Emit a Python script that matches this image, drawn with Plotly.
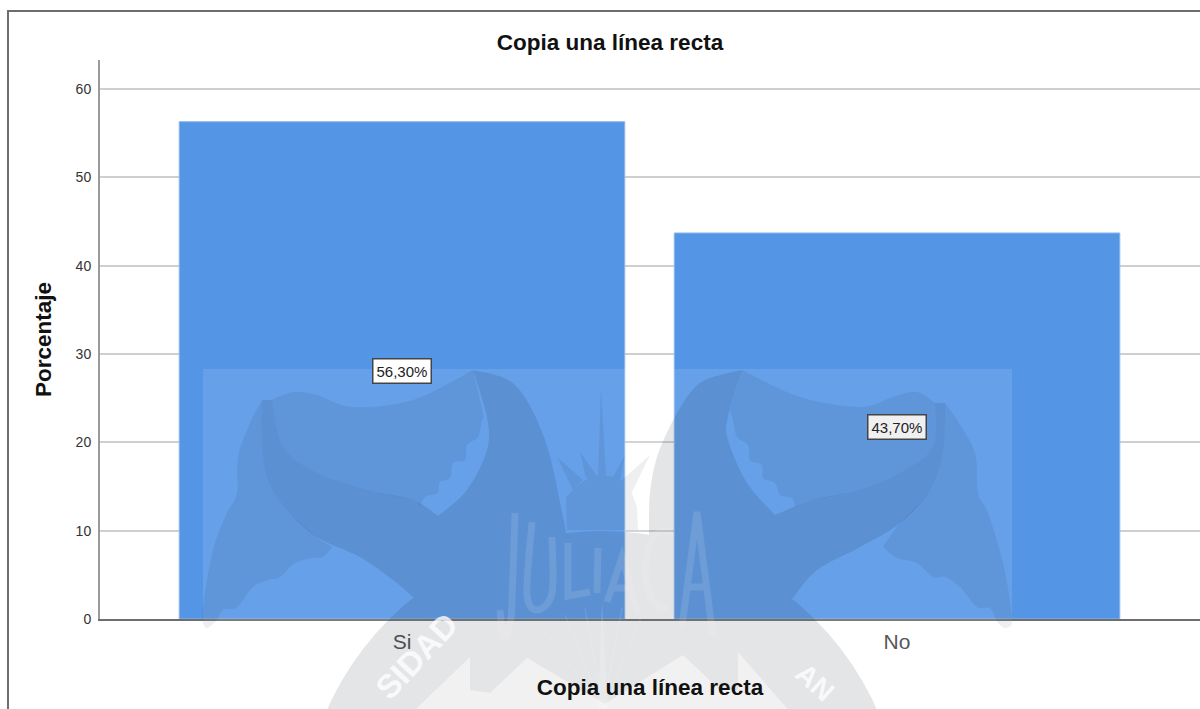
import math
import plotly.graph_objects as go

# ---- data ----
categories = ["Si", "No"]
percentages = [56.3, 43.7]
value_labels = ["56,30%", "43,70%"]
label_backgrounds = ["#ffffff", "#f0f0f0"]
y_ticks = [0, 10, 20, 30, 40, 50, 60]
chart_title = "Copia una línea recta"
x_title = "Copia una línea recta"
y_title = "Porcentaje"

# ---- layout constants (pixels on the 1200x709 page) ----
W, H = 1200, 709
L, R, T, B = 100, 1200, 60, 619
BAR = "#5495E6"
FONT = "Liberation Sans"


def px(x, y):
    return (x - L) / (R - L), (B - y) / (B - T)


def p(x, y):
    a, b = px(x, y)
    return f"{a:.5f},{b:.5f}"


def curve(pts):
    """Catmull-Rom through the points, as SVG cubic segments."""
    out = []
    n = len(pts)
    for i in range(n - 1):
        p0 = pts[max(i - 1, 0)]
        p1 = pts[i]
        p2 = pts[i + 1]
        p3 = pts[min(i + 2, n - 1)]
        c1 = (p1[0] + (p2[0] - p0[0]) / 6, p1[1] + (p2[1] - p0[1]) / 6)
        c2 = (p2[0] - (p3[0] - p1[0]) / 6, p2[1] - (p3[1] - p1[1]) / 6)
        out.append(f"C{p(*c1)} {p(*c2)} {p(*p2)}")
    return " ".join(out)


def area(pts):
    return sum(pts[i][0] * pts[(i + 1) % len(pts)][1] - pts[(i + 1) % len(pts)][0] * pts[i][1]
               for i in range(len(pts))) / 2


def shape_path(*runs, sign=1):
    """Smooth runs joined at sharp corners; winding forced so overlaps stay filled."""
    runs = [list(r) for r in runs]
    anchors = [q for r in runs for q in r]
    if area(anchors) * sign < 0:
        runs = [r[::-1] for r in runs[::-1]]
    s = "M" + p(*runs[0][0])
    for i, run in enumerate(runs):
        if i:
            s += " L" + p(*run[0])
        s += " " + curve(run)
    return s + " Z"


def polygon(pts, sign=1):
    pts = list(pts)
    if area(pts) * sign < 0:
        pts = pts[::-1]
    return "M" + " L".join(p(*q) for q in pts) + " Z"


def circle(cx, cy, r, n=96):
    return polygon([(cx + r * math.cos(2 * math.pi * i / n),
                     cy + r * math.sin(2 * math.pi * i / n)) for i in range(n)])


# ---- university seal watermark ----
left_tail = shape_path(
    [(473, 370), (515, 385), (545, 440), (563, 517), (566, 535)],
    [(566, 575), (413, 597)],
    [(413, 597), (393, 580), (360, 557), (317, 537), (287, 510), (267, 477), (262, 433), (262, 400)],
    [(272, 400), (283, 447), (317, 473), (367, 490), (413, 500), (438, 516)],
    [(438, 516), (467, 490), (487, 450), (487, 417), (473, 370)],
)
right_tail = shape_path(
    [(742, 370), (700, 383), (675, 417), (657, 457), (650, 493), (649, 525)],
    [(649, 575), (793, 598)],
    [(793, 598), (817, 570), (860, 547), (900, 523), (930, 490), (943, 450), (945, 403)],
    [(935, 403), (933, 447), (900, 473), (860, 490), (813, 500), (775, 515)],
    [(775, 515), (747, 483), (728, 440), (728, 417), (742, 370)],
)
inner_light = [(413, 712), (470, 657), (470, 690), (490, 693), (527, 658), (605, 704),
               (683, 655), (720, 690), (738, 690), (738, 652), (790, 712)]
# outer disc with the light inner field cut out (opposite winding)
disc = circle(602, 832, 301)
dark_path = " ".join([disc, polygon(inner_light, sign=-1), left_tail, right_tail])

left_upper = shape_path(
    [(272, 400), (293, 392), (317, 395), (353, 407), (413, 400), (473, 370)],
    [(473, 370), (484, 417)],
    [(484, 417), (482, 420), (478, 437), (467, 445), (465, 460), (453, 463), (450, 478),
     (440, 482), (437, 493), (425, 497), (420, 507)],
    [(420, 507), (413, 500), (367, 490), (317, 473), (283, 447), (272, 400)],
)
left_lower = shape_path(
    [(262, 400), (250, 423), (238, 457), (237, 493), (227, 513), (213, 550), (203, 607), (203, 622),
     (207, 628), (217, 620), (223, 610), (237, 607), (253, 587), (268, 580), (280, 577), (295, 563),
     (313, 558), (323, 557), (332, 547)],
    [(332, 547), (317, 537), (287, 510), (267, 477), (262, 433), (262, 400)],
)
right_upper = shape_path(
    [(935, 403), (917, 392), (893, 397), (860, 407), (800, 397), (742, 370)],
    [(742, 370), (730, 410)],
    [(730, 410), (733, 420), (737, 437), (748, 445), (750, 460), (762, 465), (763, 478),
     (775, 483), (780, 495), (792, 498), (795, 507)],
    [(795, 507), (813, 500), (860, 490), (900, 473), (933, 447), (935, 403)],
)
right_lower = shape_path(
    [(945, 403), (957, 420), (975, 453), (978, 493), (988, 513), (1003, 563), (1012, 617),
     (1007, 628), (998, 623), (990, 608), (977, 607), (960, 587), (945, 577), (933, 577),
     (917, 563), (897, 558), (883, 547)],
    [(883, 547), (900, 523), (930, 490), (943, 450), (945, 403)],
)
crown = " ".join([
    polygon([(567, 530), (566, 497), (576, 487), (590, 477), (600, 475), (618, 477), (630, 488),
             (637, 507), (638, 530)]),
    polygon([(598, 476), (601, 388), (606, 476)]),
    polygon([(573, 490), (557, 457), (583, 480)]),
    polygon([(586, 478), (580, 452), (597, 476)]),
    polygon([(613, 477), (625, 455), (620, 480)]),
    polygon([(622, 480), (650, 455), (632, 492)]),
])
mid_path = " ".join([left_upper, left_lower, right_upper, right_lower, crown])

# the tall condensed lettering of the seal is drawn as strokes
juliaca_strokes = " ".join([
    "M" + p(515, 513) + " " + curve([(515, 513), (512, 600), (510, 625), (503, 637), (500, 610)]),
    "M" + p(532, 522) + " " + curve([(532, 522), (527, 593), (537, 610), (552, 593), (552, 537)]),
    "M" + p(568, 543) + " L" + p(568, 596) + " L" + p(590, 592),
    "M" + p(598, 548) + " L" + p(597, 593),
    "M" + p(607, 602) + " L" + p(622, 557) + " L" + p(638, 613) + " M" + p(613, 588) + " L" + p(633, 588),
    "M" + p(673, 532) + " " + curve([(673, 532), (655, 535), (645, 567), (652, 600), (668, 610)]),
    "M" + p(682, 627) + " L" + p(697, 512) + " L" + p(713, 637) + " M" + p(687, 587) + " L" + p(708, 587),
])
rays = " ".join(
    "M" + p(603, 709) + " L" + p(x, y)
    for x, y in [(540, 625), (565, 615), (585, 608), (622, 608), (642, 615), (668, 625)]
)

frame_path = "M" + p(8, 709) + " L" + p(8, 11) + " L" + p(1200, 11)

shapes = [
    dict(type="rect", xref="paper", yref="paper",
         x0=px(203, 0)[0], x1=px(1012, 0)[0], y0=px(0, 709)[1], y1=px(0, 369)[1],
         fillcolor="rgba(255,255,255,0.105)", line_width=0, layer="above"),
    dict(type="path", xref="paper", yref="paper", path=polygon(inner_light),
         fillcolor="rgba(0,0,0,0.055)", line_width=0, layer="above"),
    dict(type="path", xref="paper", yref="paper", path=dark_path, fillrule="nonzero",
         fillcolor="rgba(0,10,30,0.105)", line_width=0, layer="above"),
    dict(type="path", xref="paper", yref="paper", path=mid_path, fillrule="nonzero",
         fillcolor="rgba(0,10,30,0.065)", line_width=0, layer="above"),
    dict(type="path", xref="paper", yref="paper", path=juliaca_strokes,
         line=dict(color="rgba(255,255,255,0.11)", width=7), layer="above"),
    dict(type="path", xref="paper", yref="paper", path=rays,
         line=dict(color="rgba(255,255,255,0.15)", width=1), layer="above"),
    dict(type="path", xref="paper", yref="paper", path="M" + p(598, 709) + " L" + p(602, 600) + " L" + p(608, 709) + " Z",
         fillcolor="rgba(255,255,255,0.15)", line_width=0, layer="above"),
    dict(type="path", xref="paper", yref="paper", path=frame_path,
         line=dict(color="#6e6e6e", width=2), layer="above"),
]

# ---- annotations ----
annotations = [
    dict(x=c, y=v / 2, xref="x", yref="y", text=t, showarrow=False,
         font=dict(family=FONT, size=15, color="#222222"),
         bgcolor=bg, bordercolor="#444444", borderwidth=1.5, borderpad=3, yshift=-1)
    for c, v, t, bg in zip(categories, percentages, value_labels, label_backgrounds)
]
for txt, cx, cy, ang, size in [("SIDAD", 416, 656, -47, 33), ("AN", 815, 682, 42, 28)]:
    ax, ay = px(cx, cy)
    annotations.append(dict(x=ax, y=ay, xref="paper", yref="paper", text=f"<b>{txt}</b>", textangle=ang,
                            showarrow=False, xanchor="center", yanchor="middle",
                            font=dict(family=FONT, size=size, color="rgba(255,255,255,0.8)")))

# ---- figure ----
fig = go.Figure(go.Bar(
    x=categories, y=percentages,
    marker=dict(color=BAR, line=dict(color="#8ab6ee", width=1)),
    hoverinfo="skip",
))

fig.update_layout(
    width=W, height=H,
    margin=dict(l=L, r=W - R, t=T, b=H - B, pad=0, autoexpand=False),
    paper_bgcolor="#ffffff", plot_bgcolor="#ffffff",
    bargap=0.1, showlegend=False,
    font=dict(family=FONT),
    title=dict(text=f"<b>{chart_title}</b>", x=610 / W, xref="container", xanchor="center",
               y=1 - 42 / H, yref="container", yanchor="middle",
               font=dict(family=FONT, size=22.5, color="#111111")),
    shapes=shapes,
    annotations=annotations,
)
fig.update_xaxes(
    type="category", range=[-0.61, 1.612], showgrid=False, ticks="",
    showline=True, linecolor="#6e6e6e", linewidth=2, ticklabelstandoff=3,
    tickfont=dict(family=FONT, size=21, color="#444444"),
    title=dict(text=f"<b>{x_title}</b>", standoff=27, font=dict(family=FONT, size=22.5, color="#111111")),
)
fig.update_yaxes(
    range=[0, (B - T) / (530 / 60)], tickmode="array", tickvals=y_ticks, ticks="",
    showgrid=True, gridcolor="#cfcfcf", gridwidth=2, zeroline=False,
    showline=True, linecolor="#9a9a9a", linewidth=2, ticklabelstandoff=4,
    tickfont=dict(family=FONT, size=14, color="#333333"),
    title=dict(text=f"<b>{y_title}</b>", standoff=18, font=dict(family=FONT, size=22.5, color="#111111")),
)

fig.write_html("out.html", config=dict(displayModeBar=False),
               post_script="document.body.style.margin='0';document.body.style.overflow='hidden';")
